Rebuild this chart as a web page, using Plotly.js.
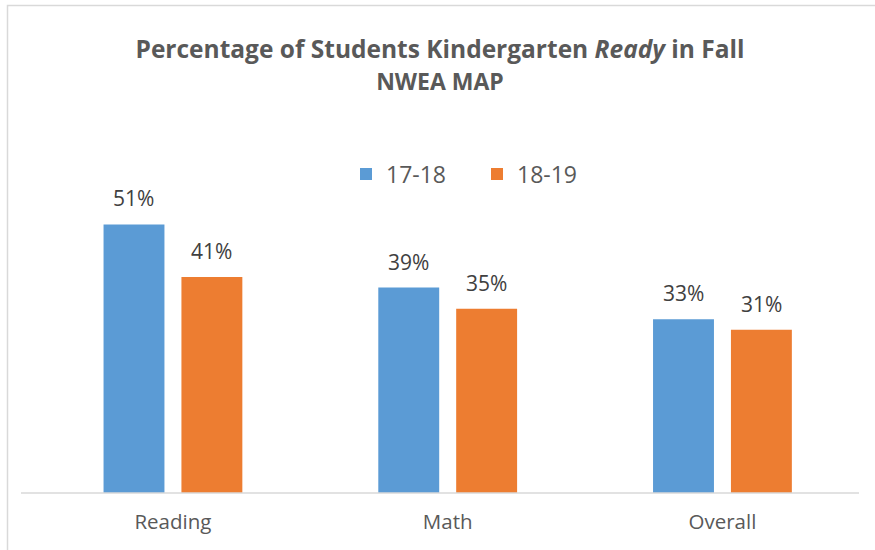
<!DOCTYPE html>
<html>
<head>
<meta charset="utf-8">
<script src="https://cdn.plot.ly/plotly-3.0.1.min.js"></script>
<style>html,body{margin:0;padding:0;background:#fff;}#chart{width:875px;height:550px;}</style>
</head>
<body>
<div id="chart"></div>
<script>
const categories = ["Reading", "Math", "Overall"];
const seriesNames = ["17-18", "18-19"];
const values1718 = [51, 39, 33];
const values1819 = [41, 35, 31];
const colors = ["#5B9BD5", "#ED7D31"];

const FONT = "'Open Sans', sans-serif";
const W = 875, H = 550;
const plotL = 21, plotR = 859, plotB = 493, plotT = 177;
const pw = plotR - plotL, ph = plotB - plotT;
const px2x = p => (p - plotL) / pw;
const py2y = p => (plotB - p) / ph;

const seriesVals = [values1718, values1819];
const traces = seriesVals.map((vals, i) => ({
  type: "bar",
  name: seriesNames[i],
  x: categories,
  y: vals,
  marker: {color: colors[i]},
  hoverinfo: "x+y+name"
}));

const offsets = [-39, 39];
const annotations = [];
seriesVals.forEach((vals, i) => {
  vals.forEach((v, j) => {
    annotations.push({
      x: categories[j], y: v, xref: "x", yref: "y",
      text: v + "%", showarrow: false,
      xshift: offsets[i], yshift: 10, yanchor: "bottom",
      font: {family: FONT, size: 21, color: "#404040"}
    });
  });
});

const layout = {
  width: W, height: H,
  paper_bgcolor: "#ffffff", plot_bgcolor: "#ffffff",
  margin: {l: plotL, r: W - plotR, t: plotT, b: H - plotB, pad: 0},
  title: {
    text: "<b>Percentage of Students Kindergarten <i>Ready</i> in Fall</b><br><span style='font-size:23px'><b>NWEA MAP</b></span>",
    font: {family: FONT, size: 24.5, color: "#595959"},
    x: 0.5, xref: "paper", xanchor: "center",
    y: 1 - 58 / H, yref: "container", yanchor: "middle"
  },
  barmode: "group",
  bargap: 0.433,
  bargroupgap: 0.218,
  xaxis: {
    type: "category",
    range: [-0.553, 2.497],
    showgrid: false, zeroline: false,
    showline: false,
    ticks: "",
    tickfont: {family: FONT, size: 20.5, color: "#595959"},
    ticklabelstandoff: 14
  },
  yaxis: {
    range: [0, 60],
    showgrid: false, zeroline: false, showline: false,
    showticklabels: false, ticks: ""
  },
  showlegend: true,
  legend: {
    orientation: "h",
    x: px2x(346), xanchor: "left",
    y: py2y(174), yanchor: "middle",
    font: {family: FONT, size: 23, color: "#595959"},
    itemwidth: 30,
    entrywidth: 86, entrywidthmode: "pixels",
    traceorder: "normal"
  },
  shapes: [
    {type: "line", xref: "paper", yref: "paper", x0: 0, x1: 1, y0: 0, y1: 0,
     line: {color: "#D9D9D9", width: 1.5}},
    {type: "rect", xref: "paper", yref: "paper",
     x0: px2x(7.5), x1: px2x(900), y0: py2y(5.5), y1: py2y(600),
     line: {color: "#D9D9D9", width: 1.5}, fillcolor: "rgba(0,0,0,0)", layer: "below"}
  ],
  annotations: annotations
};

Plotly.newPlot("chart", traces, layout, {displayModeBar: false, staticPlot: true});
</script>
</body>
</html>
